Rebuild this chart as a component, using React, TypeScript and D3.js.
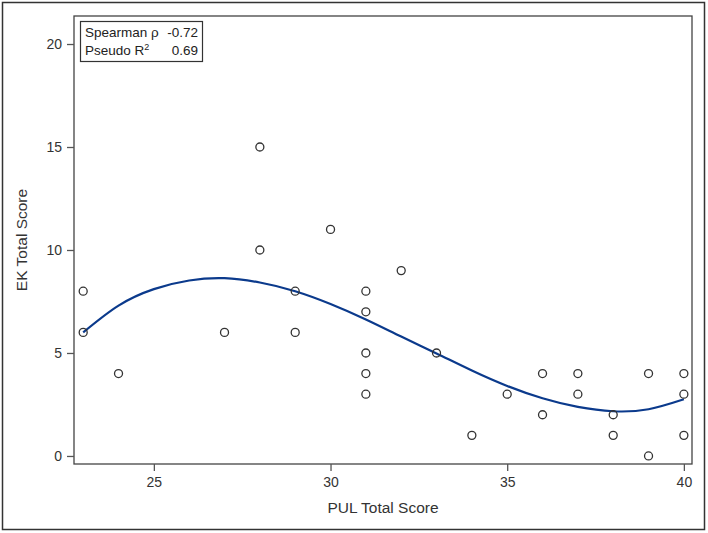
import { useRef, useEffect } from 'react';
import * as d3 from 'd3';

// scatter points
const pulScores = [23, 23, 24, 27, 28, 28, 29, 29, 30, 31, 31, 31, 31, 31, 32, 33, 34, 35, 36, 36, 37, 37, 38, 38, 39, 39, 40, 40, 40];
const ekScores = [8, 6, 4, 6, 15, 10, 8, 6, 11, 8, 7, 5, 4, 3, 9, 5, 1, 3, 4, 2, 4, 3, 2, 1, 4, 0, 4, 3, 1];

// fitted curve
const fitX = [23, 24, 25, 26, 27, 28, 29, 30, 31, 32, 33, 34, 35, 36, 37, 38, 39, 40];
const fitY = [6.0, 7.3, 8.1, 8.52, 8.63, 8.42, 8.0, 7.38, 6.63, 5.8, 4.98, 4.15, 3.4, 2.8, 2.38, 2.17, 2.27, 2.75];

const xTicks = [25, 30, 35, 40];
const yTicks = [0, 5, 10, 15, 20];

export default function App() {
  const ref = useRef<SVGSVGElement>(null);

  useEffect(() => {
    const svg = d3.select(ref.current);
    svg.selectAll('*').remove();

    const W = 708, H = 533;
    const m = { top: 16, right: 16, bottom: 69, left: 74 };
    const iw = W - m.left - m.right;
    const ih = H - m.top - m.bottom;
    const font = 'Liberation Sans, Arial, sans-serif';
    const tc = '#333';

    svg.append('rect').attr('x', 2.5).attr('y', 2.5).attr('width', W - 6).attr('height', H - 6)
      .attr('fill', '#fff').attr('stroke', '#333').attr('stroke-width', 1.5);

    const x = d3.scaleLinear().domain([22.74, 40.23]).range([0, iw]);
    const y = d3.scaleLinear().domain([-0.39, 21.36]).range([ih, 0]);

    const g = svg.append('g').attr('transform', `translate(${m.left},${m.top})`);

    g.append('rect').attr('width', iw).attr('height', ih)
      .attr('fill', 'none').attr('stroke', '#444').attr('stroke-width', 1.3);

    // axes
    g.append('g').attr('transform', `translate(0,${ih})`)
      .call(d3.axisBottom(x).tickValues(xTicks).tickSize(7).tickSizeOuter(0).tickPadding(6))
      .call(s => s.select('.domain').remove())
      .call(s => s.selectAll('line').attr('stroke', '#555').attr('stroke-width', 1.3))
      .call(s => s.selectAll('text').attr('fill', tc).style('font-size', '14px').style('font-family', font));
    g.append('g')
      .call(d3.axisLeft(y).tickValues(yTicks).tickSize(7).tickSizeOuter(0).tickPadding(5))
      .call(s => s.select('.domain').remove())
      .call(s => s.selectAll('line').attr('stroke', '#555').attr('stroke-width', 1.3))
      .call(s => s.selectAll('text').attr('fill', tc).style('font-size', '14px').style('font-family', font));

    svg.append('text')
      .attr('x', m.left + iw / 2).attr('y', 513)
      .attr('text-anchor', 'middle').attr('fill', tc)
      .style('font-size', '15.5px').style('font-family', font)
      .text('PUL Total Score');
    svg.append('text')
      .attr('transform', `translate(27,${m.top + ih / 2}) rotate(-90)`)
      .attr('text-anchor', 'middle').attr('fill', tc)
      .style('font-size', '15.5px').style('font-family', font)
      .text('EK Total Score');

    // fitted curve
    const line = d3.line<number>()
      .x((d, i) => x(fitX[i]))
      .y(d => y(d))
      .curve(d3.curveNatural);
    g.append('path').attr('d', line(fitY))
      .attr('fill', 'none').attr('stroke', '#0b3a8c').attr('stroke-width', 2.2);

    // points
    g.selectAll('circle.pt').data(pulScores).enter().append('circle')
      .attr('class', 'pt')
      .attr('cx', d => x(d))
      .attr('cy', (d, i) => y(ekScores[i]))
      .attr('r', 4)
      .attr('fill', 'none')
      .attr('stroke', '#333')
      .attr('stroke-width', 1.3);

    // stats inset
    const lg = svg.append('g');
    lg.append('rect').attr('x', 80.5).attr('y', 21.5).attr('width', 122).attr('height', 40)
      .attr('fill', '#fff').attr('stroke', '#333').attr('stroke-width', 1.2);
    const ts = (sel: any) => sel.attr('fill', '#222').style('font-size', '13.5px').style('font-family', font);
    lg.append('text').attr('x', 85).attr('y', 37).call(ts).text('Spearman ρ');
    lg.append('text').attr('x', 198).attr('y', 37).attr('text-anchor', 'end').call(ts).text('-0.72');
    const r2 = lg.append('text').attr('x', 85).attr('y', 55).call(ts);
    r2.append('tspan').text('Pseudo R');
    r2.append('tspan').attr('dy', -5).style('font-size', '9px').text('2');
    lg.append('text').attr('x', 198).attr('y', 55).attr('text-anchor', 'end').call(ts).text('0.69');
  }, []);

  return <svg ref={ref} width={708} height={533} style={{ position: 'absolute', left: 0, top: 0 }} />;
}
